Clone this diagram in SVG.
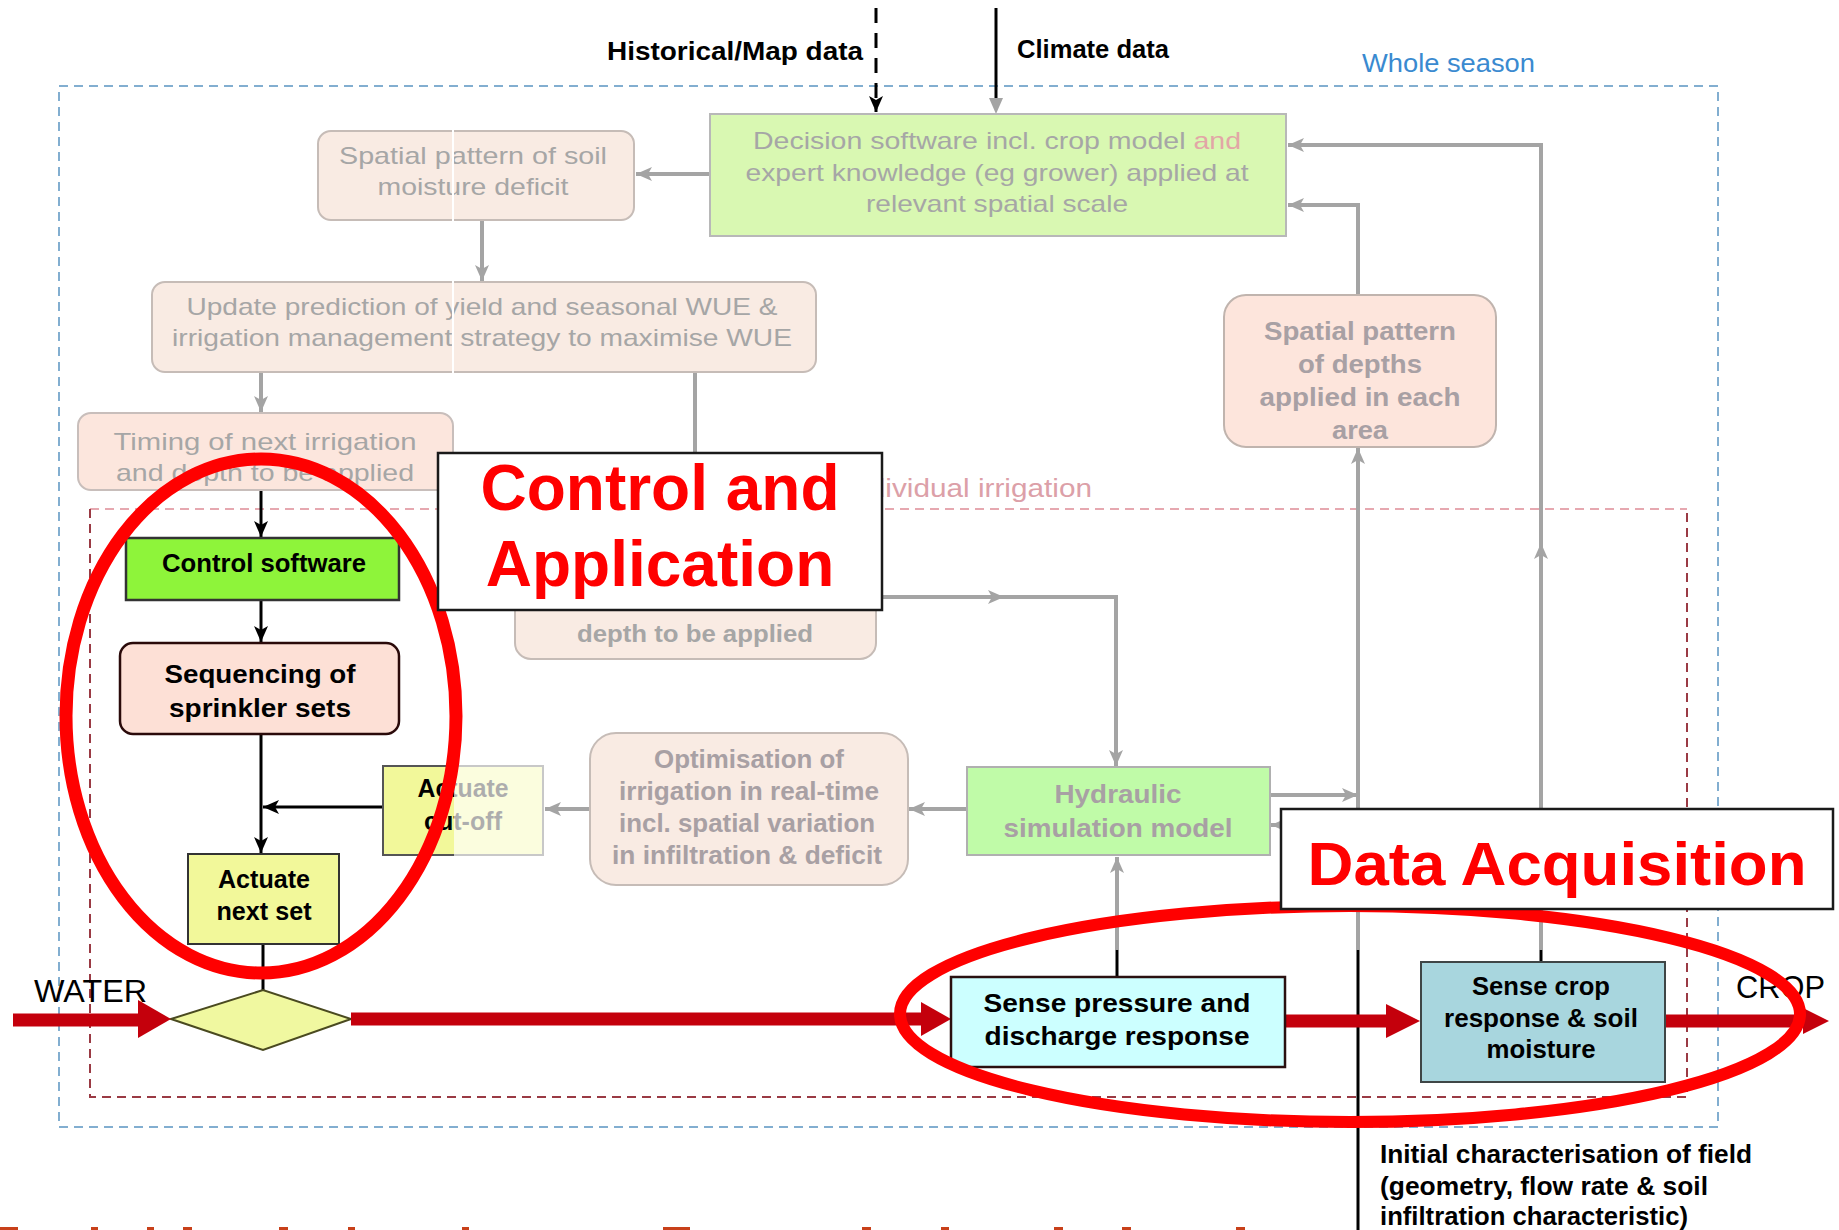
<svg xmlns="http://www.w3.org/2000/svg" width="1839" height="1230" viewBox="0 0 1839 1230">
<defs>
<style>
text { font-family: "Liberation Sans", Arial, sans-serif; }
.gt { fill:#a6a6a6; font-size:24px; text-anchor:middle; }
.gtb { fill:#a8a0a4; font-size:26px; font-weight:bold; text-anchor:middle; }
.bt { fill:#000; font-size:25px; font-weight:bold; text-anchor:middle; }
.fade { fill:#f9ebe3; stroke:#c6bcb7; stroke-width:2; }
.gl { fill:none; stroke:#a4a4a4; stroke-width:4; }
.bl { fill:none; stroke:#000; stroke-width:3; }
.red { fill:none; stroke:#c4000c; stroke-width:13; }
.redh { fill:#c4000c; }
.big { fill:#ff0000; font-weight:bold; text-anchor:middle; }
</style>
<marker id="ag" markerUnits="userSpaceOnUse" markerWidth="18" markerHeight="14" refX="16" refY="7" orient="auto"><path d="M0,0 L16,7 L0,14 L4,7 Z" fill="#a4a4a4"/></marker>
<marker id="ab" markerUnits="userSpaceOnUse" markerWidth="18" markerHeight="14" refX="16" refY="7" orient="auto"><path d="M0,0 L16,7 L0,14 L4,7 Z" fill="#000"/></marker>
</defs>
<rect width="1839" height="1230" fill="#fff"/>

<g id="frames">
<rect x="59" y="86" width="1659" height="1041" fill="none" stroke="#82aed0" stroke-width="2" stroke-dasharray="9 6"/>
<text x="1362" y="72" font-size="25" fill="#3a8ad0" textLength="173" lengthAdjust="spacingAndGlyphs">Whole season</text>
<path d="M90,509 L1687,509" fill="none" stroke="#e6a8b0" stroke-width="2" stroke-dasharray="9 6"/>
<path d="M90,509 L90,1097 L1687,1097 L1687,509" fill="none" stroke="#9a3a44" stroke-width="2" stroke-dasharray="9 6"/>
<text x="1092" y="497" font-size="26" fill="#dca0a8" text-anchor="end" textLength="248" lengthAdjust="spacingAndGlyphs">Individual irrigation</text>
</g>

<g id="connectors">
<path class="bl" d="M876,8 L876,112" stroke-dasharray="15 10" marker-end="url(#ab)"/>
<path class="bl" d="M996,8 L996,100"/>
<path d="M989,98 L996,114 L1003,98 Z" fill="#a4a4a4"/>
<path class="gl" d="M710,174 L636,174" marker-end="url(#ag)"/>
<path class="gl" d="M482,220 L482,281" marker-end="url(#ag)"/>
<path class="gl" d="M261,372 L261,412" marker-end="url(#ag)"/>
<path class="gl" d="M695,372 L695,590"/>
<path class="gl" d="M876,597 L1004,597" marker-end="url(#ag)"/>
<path class="gl" d="M1000,597 L1116,597 L1116,766" marker-end="url(#ag)"/>
<path class="gl" d="M967,809 L909,809" marker-end="url(#ag)"/>
<path class="gl" d="M590,809 L545,809" marker-end="url(#ag)"/>
<path class="gl" d="M1270,795 L1358,795" marker-end="url(#ag)"/>
<path class="gl" d="M1358,950 L1358,448" marker-end="url(#ag)"/>
<path class="gl" d="M1358,295 L1358,205 L1288,205" marker-end="url(#ag)"/>
<path class="gl" d="M1541,950 L1541,543" marker-end="url(#ag)"/>
<path class="gl" d="M1541,548 L1541,145 L1288,145" marker-end="url(#ag)"/>
<path class="gl" d="M1117,950 L1117,857" marker-end="url(#ag)"/>
<path class="gl" d="M1300,825 L1271,825" marker-end="url(#ag)"/>
<path class="bl" d="M261,491 L261,537" marker-end="url(#ab)"/>
<path class="bl" d="M261,600 L261,642" marker-end="url(#ab)"/>
<path class="bl" d="M261,734 L261,853" marker-end="url(#ab)"/>
<path class="bl" d="M383,807 L263,807" stroke-width="4" marker-end="url(#ab)"/>
<path class="bl" d="M263,944 L263,990"/>
<path class="bl" d="M1117,977 L1117,950"/>
<path class="bl" d="M1541,962 L1541,950"/>
<path class="bl" d="M1358,950 L1358,1230"/>
</g>

<g id="n-historical"><text x="607" y="60" font-size="26" font-weight="bold" textLength="256" lengthAdjust="spacingAndGlyphs">Historical/Map data</text></g>
<g id="n-climate"><text x="1017" y="58" font-size="25" font-weight="bold" textLength="152" lengthAdjust="spacingAndGlyphs">Climate data</text></g>

<g id="n-decision">
<rect x="710" y="114" width="576" height="122" fill="#d9f8b2" stroke="#b8b8b8" stroke-width="2"/>
<text class="gt" x="997" y="149" textLength="488" lengthAdjust="spacingAndGlyphs">Decision software incl. crop model <tspan fill="#e2a6a6">and</tspan></text>
<text class="gt" x="997" y="181" textLength="503" lengthAdjust="spacingAndGlyphs">expert knowledge (eg grower) applied at</text>
<text class="gt" x="997" y="212" textLength="262" lengthAdjust="spacingAndGlyphs">relevant spatial scale</text>
</g>

<g id="n-soil">
<rect class="fade" x="318" y="131" width="316" height="89" rx="13"/>
<text class="gt" x="473" y="164" textLength="268" lengthAdjust="spacingAndGlyphs">Spatial pattern of soil</text>
<text class="gt" x="473" y="195" textLength="191" lengthAdjust="spacingAndGlyphs">moisture deficit</text>
</g>

<g id="n-update">
<rect class="fade" x="152" y="282" width="664" height="90" rx="13"/>
<text class="gt" x="482" y="315" textLength="591" lengthAdjust="spacingAndGlyphs">Update prediction of yield and seasonal WUE &amp;</text>
<text class="gt" x="482" y="346" textLength="620" lengthAdjust="spacingAndGlyphs">irrigation management strategy to maximise WUE</text>
</g>
<line x1="453" y1="128" x2="453" y2="374" stroke="#fff" stroke-width="2"/>

<g id="n-timing">
<rect x="78" y="413" width="375" height="77" rx="13" fill="#fce6dd" stroke="#c8bebb" stroke-width="2"/>
<text class="gt" x="265" y="450" textLength="303" lengthAdjust="spacingAndGlyphs">Timing of next irrigation</text>
<text class="gt" x="265" y="481" textLength="298" lengthAdjust="spacingAndGlyphs">and depth to be applied</text>
</g>

<g id="n-depth">
<rect class="fade" x="515" y="575" width="361" height="84" rx="16"/>
<text class="gt" x="695" y="642" font-weight="bold" textLength="236" lengthAdjust="spacingAndGlyphs">depth to be applied</text>
</g>

<g id="n-depths-area">
<rect x="1224" y="295" width="272" height="152" rx="22" fill="#fde5dc" stroke="#c0b4ae" stroke-width="2"/>
<text class="gtb" x="1360" y="340" textLength="192" lengthAdjust="spacingAndGlyphs">Spatial pattern</text>
<text class="gtb" x="1360" y="373" textLength="124" lengthAdjust="spacingAndGlyphs">of depths</text>
<text class="gtb" x="1360" y="406" textLength="201" lengthAdjust="spacingAndGlyphs">applied in each</text>
<text class="gtb" x="1360" y="439" textLength="56" lengthAdjust="spacingAndGlyphs">area</text>
</g>

<g id="n-hydraulic">
<rect x="967" y="767" width="303" height="88" fill="#c0fba8" stroke="#b0b0b0" stroke-width="2"/>
<text class="gtb" x="1118" y="803" textLength="127" lengthAdjust="spacingAndGlyphs">Hydraulic</text>
<text class="gtb" x="1118" y="837" textLength="229" lengthAdjust="spacingAndGlyphs">simulation model</text>
</g>

<g id="n-optimisation">
<rect class="fade" x="590" y="733" width="318" height="152" rx="26"/>
<text class="gtb" x="749" y="768" font-size="24" textLength="190" lengthAdjust="spacingAndGlyphs">Optimisation of</text>
<text class="gtb" x="749" y="800" font-size="24" textLength="260" lengthAdjust="spacingAndGlyphs">irrigation in real-time</text>
<text class="gtb" x="747" y="832" font-size="24" textLength="256" lengthAdjust="spacingAndGlyphs">incl. spatial variation</text>
<text class="gtb" x="747" y="864" font-size="24" textLength="270" lengthAdjust="spacingAndGlyphs">in infiltration &amp; deficit</text>
</g>

<g id="n-cutoff">
<rect x="383" y="766" width="160" height="89" fill="#f2f89a" stroke="#555" stroke-width="2"/>
<text class="bt" x="463" y="797" textLength="91" lengthAdjust="spacingAndGlyphs">Actuate</text>
<text class="bt" x="463" y="830" textLength="78" lengthAdjust="spacingAndGlyphs">cut-off</text>
<rect x="454" y="764" width="91" height="93" fill="#fff" opacity="0.68"/>
</g>

<g id="n-control">
<rect x="126" y="538" width="273" height="62" fill="#8ef43a" stroke="#333" stroke-width="2.5"/>
<text class="bt" x="264" y="572" textLength="204" lengthAdjust="spacingAndGlyphs">Control software</text>
</g>

<g id="n-sequencing">
<rect x="120" y="643" width="279" height="91" rx="13" fill="#fde0d6" stroke="#2a0a0a" stroke-width="2.5"/>
<text class="bt" x="260" y="683" font-size="26" fill="#1a0000" textLength="191" lengthAdjust="spacingAndGlyphs">Sequencing of</text>
<text class="bt" x="260" y="717" font-size="26" fill="#1a0000" textLength="182" lengthAdjust="spacingAndGlyphs">sprinkler sets</text>
</g>

<g id="n-nextset">
<rect x="188" y="854" width="151" height="90" fill="#f2f89a" stroke="#333" stroke-width="2"/>
<text class="bt" x="264" y="888" textLength="92" lengthAdjust="spacingAndGlyphs">Actuate</text>
<text class="bt" x="264" y="920" textLength="95" lengthAdjust="spacingAndGlyphs">next set</text>
</g>

<g id="n-valve">
<path d="M171,1019 L263,990 L351,1019 L263,1050 Z" fill="#f0f8a0" stroke="#4a4a20" stroke-width="2"/>
</g>

<g id="flow">
<path class="red" d="M13,1020 L140,1020"/>
<path class="redh" d="M138,1000 L171,1019 L138,1038 Z"/>
<path class="red" d="M351,1019 L925,1019" stroke-width="12"/>
<path class="redh" d="M921,1002 L951,1019 L921,1036 Z"/>
<path class="red" d="M1285,1021 L1390,1021" stroke-width="12"/>
<path class="redh" d="M1386,1004 L1420,1021 L1386,1038 Z"/>
<path class="red" d="M1665,1021 L1805,1021" stroke-width="12"/>
<path class="redh" d="M1803,1008 L1829,1021 L1803,1034 Z"/>
</g>
<g id="n-water"><text x="34" y="1002" font-size="31" textLength="113" lengthAdjust="spacingAndGlyphs">WATER</text></g>
<g id="n-crop"><text x="1736" y="998" font-size="31" textLength="89" lengthAdjust="spacingAndGlyphs">CROP</text></g>

<g id="n-sense-pressure">
<rect x="951" y="977" width="334" height="90" fill="#ccffff" stroke="#2a1010" stroke-width="2.5"/>
<text class="bt" x="1117" y="1012" font-size="26" textLength="267" lengthAdjust="spacingAndGlyphs">Sense pressure and</text>
<text class="bt" x="1117" y="1045" font-size="26" textLength="265" lengthAdjust="spacingAndGlyphs">discharge response</text>
</g>

<g id="n-sense-crop">
<rect x="1421" y="962" width="244" height="120" fill="#a8d6de" stroke="#3f4646" stroke-width="2"/>
<text class="bt" x="1541" y="995" fill="#111" textLength="138" lengthAdjust="spacingAndGlyphs">Sense crop</text>
<text class="bt" x="1541" y="1027" fill="#111" textLength="194" lengthAdjust="spacingAndGlyphs">response &amp; soil</text>
<text class="bt" x="1541" y="1058" fill="#111" textLength="109" lengthAdjust="spacingAndGlyphs">moisture</text>
</g>

<g id="n-initial">
<text x="1380" y="1163" font-size="25" font-weight="bold" textLength="372" lengthAdjust="spacingAndGlyphs">Initial characterisation of field</text>
<text x="1380" y="1195" font-size="25" font-weight="bold" textLength="328" lengthAdjust="spacingAndGlyphs">(geometry, flow rate &amp; soil</text>
<text x="1380" y="1225" font-size="25" font-weight="bold" textLength="308" lengthAdjust="spacingAndGlyphs">infiltration characteristic)</text>
</g>

<g id="highlights">
<ellipse cx="261" cy="716" rx="195" ry="257" fill="none" stroke="#ff0000" stroke-width="13"/>
<ellipse cx="1350" cy="1014" rx="450" ry="108" fill="none" stroke="#ff0000" stroke-width="12"/>
</g>

<g id="n-control-application">
<rect x="438" y="453" width="444" height="157" fill="#fff" stroke="#1a1a1a" stroke-width="2.5"/>
<text class="big" x="660" y="510" font-size="64">Control and</text>
<text class="big" x="660" y="586" font-size="64">Application</text>
</g>

<g id="n-data-acquisition">
<rect x="1281" y="809" width="552" height="100" fill="#fff" stroke="#1a1a1a" stroke-width="2.5"/>
<text class="big" x="1557" y="885" font-size="62" textLength="499" lengthAdjust="spacingAndGlyphs">Data Acquisition</text>
</g>

<g id="clipped-caption" fill="#c8401a">
<rect x="0" y="1227" width="18" height="3"/>
<rect x="91" y="1227" width="7" height="3"/>
<rect x="147" y="1227" width="7" height="3"/>
<rect x="183" y="1227" width="9" height="3"/>
<rect x="279" y="1227" width="9" height="3"/>
<rect x="348" y="1227" width="7" height="3"/>
<rect x="462" y="1227" width="7" height="3"/>
<rect x="663" y="1227" width="27" height="3"/>
<rect x="862" y="1227" width="9" height="3"/>
<rect x="941" y="1227" width="8" height="3"/>
<rect x="1054" y="1227" width="9" height="3"/>
<rect x="1122" y="1227" width="9" height="3"/>
<rect x="1236" y="1227" width="9" height="3"/>
</g>
</svg>
